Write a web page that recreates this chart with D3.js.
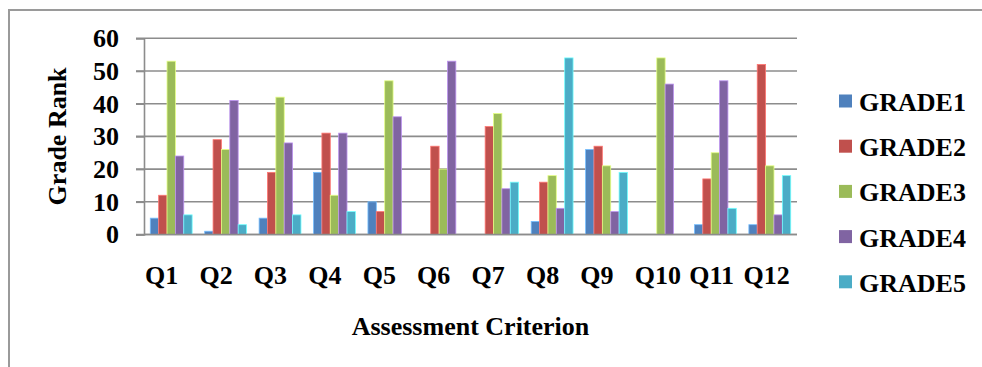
<!DOCTYPE html>
<html>
<head>
<meta charset="utf-8">
<script src="https://cdn.jsdelivr.net/npm/d3@7"></script>
</head>
<body style="margin:0;background:#fff">
<svg id="chart" width="982" height="367" style="display:block"></svg>
<script>
// Assessment criteria (x categories)
const criteria = ["Q1", "Q2", "Q3", "Q4", "Q5", "Q6", "Q7", "Q8", "Q9", "Q10", "Q11", "Q12"];
// Grade series
const grades = ["GRADE1", "GRADE2", "GRADE3", "GRADE4", "GRADE5"];
// Counts per criterion for each grade
const grade1 = [5, 1, 5, 19, 10, 0, 0, 4, 26, 0, 3, 3];
const grade2 = [12, 29, 19, 31, 7, 27, 33, 16, 27, 0, 17, 52];
const grade3 = [53, 26, 42, 12, 47, 20, 37, 18, 21, 54, 25, 21];
const grade4 = [24, 41, 28, 31, 36, 53, 14, 8, 7, 46, 47, 6];
const grade5 = [6, 3, 6, 7, 0, 0, 16, 54, 19, 0, 8, 18];
// Value-axis ticks
const yTicks = [0, 10, 20, 30, 40, 50, 60];

const seriesValues = [grade1, grade2, grade3, grade4, grade5];
const colors = ["#4F81BD", "#C0504D", "#9BBB59", "#8064A2", "#4BACC6"];

const FONT = "'Liberation Serif'";
const styleText = sel => sel
  .attr("font-family", FONT)
  .attr("font-weight", "bold")
  .attr("font-size", 26)
  .attr("fill", "#000");

const svg = d3.select("#chart");

// Outer chart-area frame (only top and left edges fall inside the view)
svg.append("path")
  .attr("d", "M9,367 L9,10 L982,10")
  .attr("fill", "none")
  .attr("stroke", "#9a9a9a")
  .attr("stroke-width", 2);

const plot = { left: 144, right: 797, top: 38.3, bottom: 234.5 };

const x = d3.scaleBand().domain(criteria).range([plot.left, plot.right]).paddingInner(0).paddingOuter(0);
const xInner = d3.scaleBand().domain(grades).range([0, x.bandwidth()]).paddingInner(0).paddingOuter(0.75);
const y = d3.scaleLinear().domain([0, 60]).range([plot.bottom, plot.top]);

// Horizontal gridlines, extending over the tick marks
svg.append("g")
  .selectAll("line")
  .data(yTicks)
  .join("line")
  .attr("x1", plot.left - 8)
  .attr("x2", plot.right)
  .attr("y1", d => y(d))
  .attr("y2", d => y(d))
  .attr("stroke", "#8c8c8c")
  .attr("stroke-width", 1.6);

// Value axis
const yAxis = svg.append("g")
  .attr("transform", `translate(${plot.left},0)`)
  .call(d3.axisLeft(y).tickValues(yTicks).tickSize(8).tickPadding(17).tickFormat(d3.format("d")));
yAxis.attr("font-family", FONT).attr("font-size", 26).attr("font-weight", "bold");
yAxis.select(".domain").attr("stroke", "#8c8c8c").attr("stroke-width", 1.6);
yAxis.selectAll(".tick line").attr("stroke", "#8c8c8c").attr("stroke-width", 1.6);
yAxis.selectAll(".tick text").call(styleText);

// Bars
const groups = svg.append("g")
  .selectAll("g")
  .data(criteria)
  .join("g")
  .attr("transform", d => `translate(${x(d)},0)`);

groups.selectAll("rect")
  .data((c, i) => grades.map((g, k) => ({ grade: g, k, value: seriesValues[k][i] })))
  .join("rect")
  .attr("x", d => xInner(d.grade))
  .attr("width", xInner.bandwidth())
  .attr("y", d => y(d.value))
  .attr("height", d => y(0) - y(d.value))
  .attr("fill", d => colors[d.k])
  .attr("stroke", d => d.value > 0 ? d3.color(colors[d.k]).brighter(1.1) : "none")
  .attr("stroke-width", 0.8);

// Baseline redrawn on top of bars
svg.append("line")
  .attr("x1", plot.left)
  .attr("x2", plot.right)
  .attr("y1", y(0))
  .attr("y2", y(0))
  .attr("stroke", "#8c8c8c")
  .attr("stroke-width", 1.6);

// Category labels (left-aligned in each slot)
svg.append("g")
  .selectAll("text")
  .data(criteria)
  .join("text")
  .attr("x", d => x(d) + 1)
  .attr("y", 284)
  .call(styleText)
  .text(d => d);

// Axis titles
svg.append("text")
  .attr("x", (plot.left + plot.right) / 2)
  .attr("y", 335)
  .attr("text-anchor", "middle")
  .call(styleText)
  .text("Assessment Criterion");

svg.append("text")
  .attr("transform", `translate(66,${(plot.top + plot.bottom) / 2}) rotate(-90)`)
  .attr("text-anchor", "middle")
  .call(styleText)
  .text("Grade Rank");

// Legend
const legend = svg.append("g")
  .selectAll("g")
  .data(grades)
  .join("g")
  .attr("transform", (d, i) => `translate(839,${101 + i * 45.2})`);

legend.append("rect")
  .attr("x", 0)
  .attr("y", -6.5)
  .attr("width", 13)
  .attr("height", 13)
  .attr("fill", (d, i) => colors[i]);

legend.append("text")
  .attr("x", 20)
  .attr("y", 10)
  .call(styleText)
  .text(d => d);
</script>
</body>
</html>
